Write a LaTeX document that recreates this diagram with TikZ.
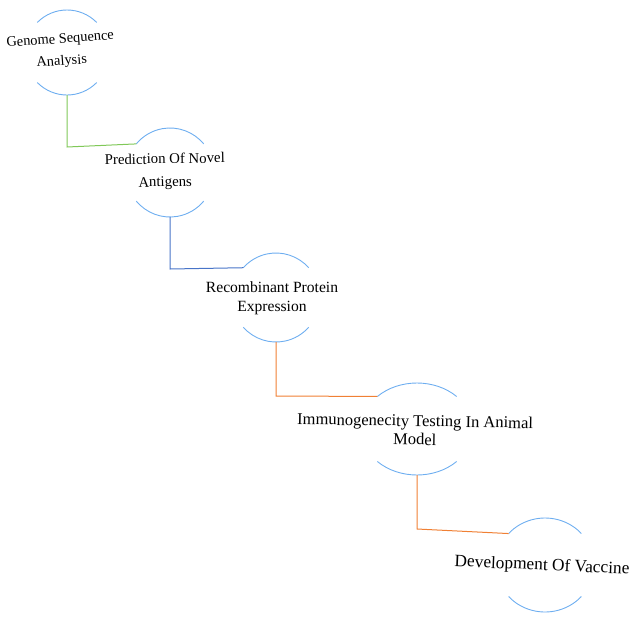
\documentclass[tikz,border=0pt]{standalone}
\usepackage{fontspec}
\setmainfont{Liberation Serif}
\usetikzlibrary{calc}
\definecolor{ringblue}{RGB}{110,174,240}
\definecolor{cgreen}{RGB}{128,200,88}
\definecolor{cblue}{RGB}{72,116,200}
\definecolor{corange}{RGB}{240,128,52}
\newcommand\ringpair[6]{% name, cx, cy(down), rx, ry, angle
  \coordinate (#1) at (#2,-#3);
  \pgfmathsetmacro\rpA{180-#6}
  \pgfmathsetmacro\rpB{180+#6}
  \pgfmathsetmacro\rpC{360-#6}
  \draw[ring] ($(#1)+({#4*cos(#6)},{#5*sin(#6)})$) arc[start angle=#6, end angle=\rpA, x radius=#4, y radius=#5];
  \draw[ring] ($(#1)+({-#4*cos(#6)},{-#5*sin(#6)})$) arc[start angle=\rpB, end angle=\rpC, x radius=#4, y radius=#5];
  \coordinate (#1-tl) at ($(#1)+({-#4*cos(#6)},{#5*sin(#6)})$);
  \coordinate (#1-bot) at ($(#1)+(0,-#5)$);
}
\begin{document}
\begin{tikzpicture}[x=1pt,y=1pt,
  ring/.style={draw=ringblue, line width=0.9pt},
  lbl/.style={align=center, inner sep=0pt, text=black},
  conn/.style={line width=1pt}]
\useasboundingbox (0,-619) rectangle (633,0);
\ringpair{r1}{67}{52.5}{42}{42.5}{45}
\ringpair{r2}{170}{172.5}{44}{44.5}{40}
\ringpair{r3}{276}{297.5}{44}{44.5}{42}
\ringpair{r4}{417}{429}{56}{46}{45}
\ringpair{r5}{545}{565}{49}{47}{42}
\node[lbl, rotate=4, font=\fontsize{14.4}{22}\selectfont] (t1) at (61,-51) {Genome Sequence\\Analysis};
\node[lbl, rotate=1, font=\fontsize{14.8}{23}\selectfont] (t2) at (165,-171.5) {Prediction Of Novel\\Antigens};
\node[lbl, font=\fontsize{15.6}{19}\selectfont] (t3) at (272,-298) {Recombinant Protein\\Expression};
\node[lbl, rotate=-1, font=\fontsize{16.5}{18.5}\selectfont] (t4) at (415,-430) {Immunogenecity Testing In Animal\\Model};
\node[lbl, rotate=-2.5, font=\fontsize{17.3}{17}\selectfont] (t5) at (542,-566) {Development Of Vaccine};
\draw[conn, draw=cgreen] (r1-bot) -- ++(0,-52) coordinate (k1) -- (r2-tl);
\draw[conn, draw=cblue] (r2-bot) -- ++(0,-52) coordinate (k2) -- (r3-tl);
\draw[conn, draw=corange] (r3-bot) -- ++(0,-54) coordinate (k3) -- (r4-tl);
\draw[conn, draw=corange] (r4-bot) -- ++(0,-54) coordinate (k4) -- (r5-tl);
\end{tikzpicture}
\end{document}
